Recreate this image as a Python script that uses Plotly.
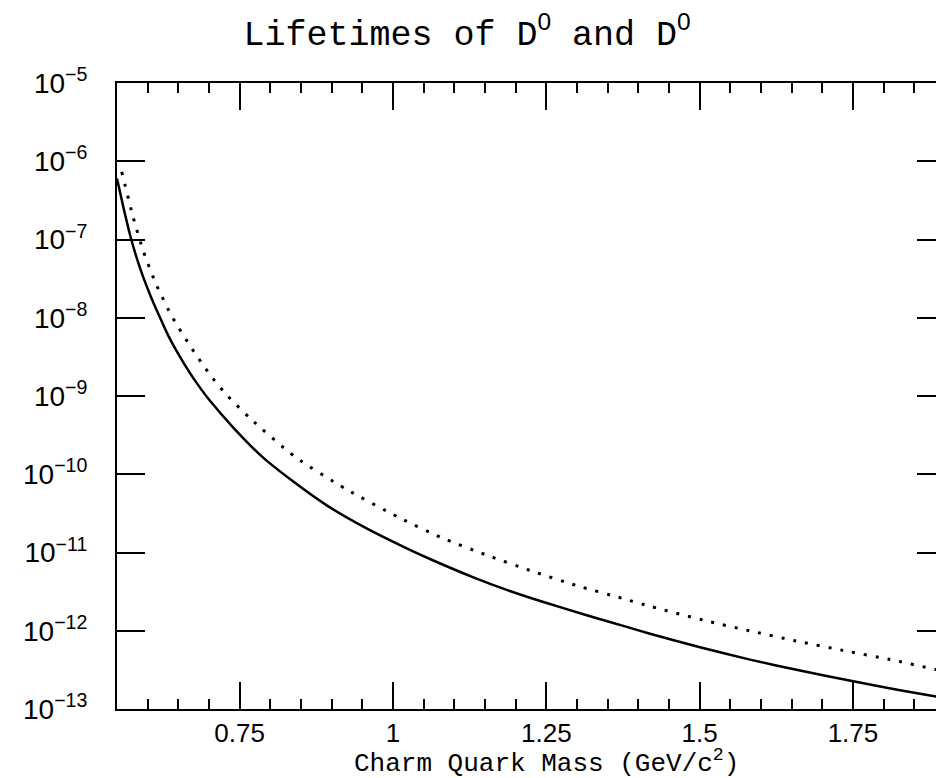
import plotly.graph_objects as go

# Charm quark mass (GeV/c^2) and lifetimes
mass_solid = [0.550, 0.5603, 0.5723, 0.5821, 0.5929, 0.6066, 0.6190, 0.6336, 0.6473, 0.6690,
              0.6853, 0.7000, 0.7396, 0.786, 0.8375, 0.892, 0.957, 1.0224, 1.0658, 1.131,
              1.1855, 1.2506, 1.3158, 1.3811, 1.4191, 1.5006, 1.5821, 1.6637, 1.7505, 1.8267,
              1.8854, 1.900]
life_solid = [6.0e-7, 2.61e-7, 1.07e-7, 5.82e-8, 3.28e-8, 1.75e-8, 1.05e-8, 5.9e-9, 3.74e-9, 1.96e-9,
              1.28e-9, 9.0e-10, 3.95e-10, 1.69e-10, 8.05e-11, 4.0e-11, 2.03e-11, 1.13e-11, 7.9e-12, 4.82e-12,
              3.33e-12, 2.26e-12, 1.58e-12, 1.12e-12, 9.16e-13, 6.15e-13, 4.28e-13, 3.10e-13, 2.26e-13, 1.74e-13,
              1.44e-13, 1.37e-13]

mass_dotted = [0.5577, 0.5766, 0.5929, 0.6136, 0.6392, 0.669, 0.7016, 0.7261, 0.7669, 0.8402,
               0.9229, 1.0098, 1.0783, 1.1505, 1.2234, 1.2984, 1.3734, 1.4109, 1.505, 1.581,
               1.6576, 1.7342, 1.8104, 1.8854, 1.900]
life_dotted = [7.3e-7, 1.9e-7, 7.1e-8, 2.7e-8, 1.05e-8, 4.4e-9, 1.87e-9, 1.09e-9, 5.2e-10, 1.67e-10,
               6.5e-11, 2.8e-11, 1.56e-11, 9.4e-12, 5.9e-12, 3.8e-12, 2.6e-12, 2.14e-12, 1.37e-12, 1.0e-12,
               7.4e-13, 5.6e-13, 4.3e-13, 3.2e-13, 3.1e-13]

x_tickvals = [0.75, 1.0, 1.25, 1.5, 1.75]
x_ticktext = ["0.75", "1", "1.25", "1.5", "1.75"]
y_exponents = [-13, -12, -11, -10, -9, -8, -7, -6, -5]
y_tickvals = [10.0 ** e for e in y_exponents]
y_ticktext = ["10<sup>\u2212%d</sup>" % (-e) for e in y_exponents]

SUP0 = "<sup><span style='font-family:Liberation Sans'>0</span></sup>"
title_text = "Lifetimes of D" + SUP0 + " and D" + SUP0
x_label = "Charm Quark Mass (GeV/c<sup>2</sup>)"

MONO = "Liberation Mono, DejaVu Sans Mono, monospace"
SANS = "Liberation Sans, Arial, sans-serif"

fig = go.Figure()
fig.add_trace(go.Scatter(x=mass_dotted, y=life_dotted, mode="lines",
                         line=dict(color="black", width=3, dash="3px,9px",
                                   shape="spline", smoothing=0.6),
                         showlegend=False, hoverinfo="skip"))
fig.add_trace(go.Scatter(x=mass_solid, y=life_solid, mode="lines",
                         line=dict(color="black", width=2.5, shape="spline", smoothing=0.6),
                         showlegend=False, hoverinfo="skip"))
# invisible trace to carry the right-hand tick axis
fig.add_trace(go.Scatter(x=mass_solid, y=life_solid, yaxis="y2", mode="lines",
                         line=dict(color="rgba(0,0,0,0)", width=0),
                         showlegend=False, hoverinfo="skip"))

fig.update_layout(
    width=936, height=778,
    margin=dict(l=117, r=0, t=83, b=69),
    paper_bgcolor="white", plot_bgcolor="white",
    title=dict(text=title_text, x=0.499, xanchor="center", y=0.958, yanchor="middle",
               font=dict(family=MONO, size=35, color="black")),
    xaxis=dict(range=[0.55, 1.8854], showgrid=False, zeroline=False,
               showline=True, linecolor="black", linewidth=2, mirror="ticks",
               ticks="inside", ticklen=27, tickwidth=2, tickcolor="black",
               tickvals=x_tickvals, ticktext=x_ticktext,
               tickfont=dict(family=SANS, size=26, color="black"),
               minor=dict(ticks="inside", ticklen=10, tickwidth=2, tickcolor="black",
                          dtick=0.05, tick0=0.55, showgrid=False)),
    yaxis=dict(type="log", range=[-13, -5], showgrid=False, zeroline=False,
               showline=True, linecolor="black", linewidth=2,
               ticks="inside", ticklen=28, tickwidth=2, tickcolor="black",
               tickvals=y_tickvals, ticktext=y_ticktext, ticklabelstandoff=22,
               tickfont=dict(family=SANS, size=28, color="black")),
    yaxis2=dict(type="log", range=[-13, -5], overlaying="y", side="right",
                anchor="free", position=1.0, showgrid=False, zeroline=False,
                showline=False, ticks="inside", ticklen=19, tickwidth=2,
                tickcolor="black", tickvals=y_tickvals[1:-1], showticklabels=False),
    annotations=[dict(text=x_label, xref="paper", yref="paper", x=0.525, y=-0.085,
                      xanchor="center", yanchor="middle", showarrow=False,
                      font=dict(family=MONO, size=26, color="black"))],
)

fig.write_html("out.html")
